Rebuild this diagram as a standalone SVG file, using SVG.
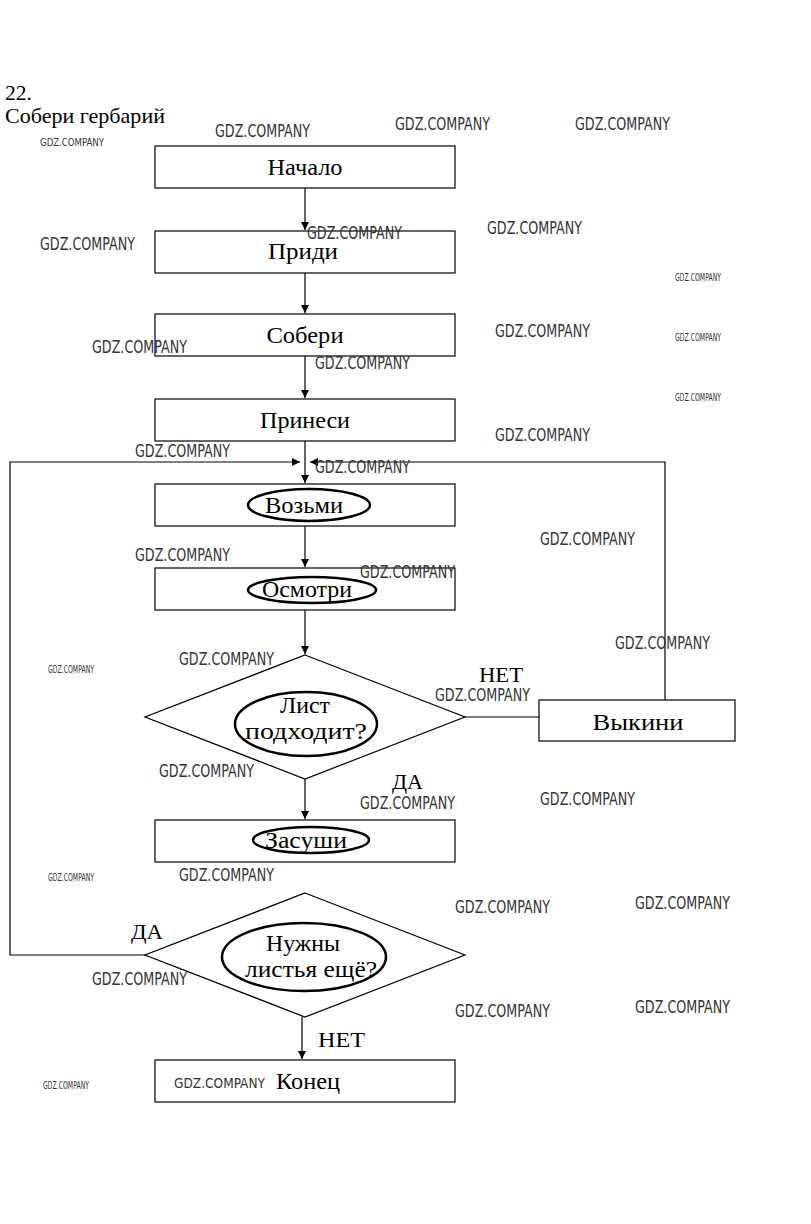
<svg xmlns="http://www.w3.org/2000/svg" width="811" height="1224" viewBox="0 0 811 1224">
<defs>
<style>
.box{fill:#fff;stroke:#000;stroke-width:1.2}
.ell{fill:none;stroke:#000;stroke-width:2.5}
.t{font-family:"Liberation Serif",serif;font-size:24px;fill:#000;text-anchor:middle}
.tl{font-family:"Liberation Serif",serif;font-size:22px;fill:#000}
.ln{fill:none;stroke:#000;stroke-width:1.2}
.wm{font-family:"DejaVu Sans Condensed","Liberation Sans",sans-serif;font-size:17px;fill:#333}
.ws{font-family:"DejaVu Sans Condensed","Liberation Sans",sans-serif;font-size:10px;fill:#333}
</style>
<marker id="ar" viewBox="0 0 10 10" refX="10" refY="5" markerWidth="7" markerHeight="7" orient="auto-start-reverse">
<path d="M0,0 L10,5 L0,10 z" fill="#000"/>
</marker>
</defs>
<rect width="811" height="1224" fill="#fff"/>
<text class="tl" x="5" y="100" textLength="27" lengthAdjust="spacingAndGlyphs">22.</text>
<text class="tl" x="5" y="123" textLength="160" lengthAdjust="spacingAndGlyphs">Собери гербарий</text>

<g id="connectors">
<line class="ln" x1="305" y1="188" x2="305" y2="230" marker-end="url(#ar)"/>
<line class="ln" x1="305" y1="273" x2="305" y2="313" marker-end="url(#ar)"/>
<line class="ln" x1="305" y1="356" x2="305" y2="398" marker-end="url(#ar)" stroke="#666"/>
<line class="ln" x1="305" y1="441" x2="305" y2="483" marker-end="url(#ar)"/>
<line class="ln" x1="305" y1="526" x2="305" y2="567" marker-end="url(#ar)"/>
<line class="ln" x1="305" y1="610" x2="305" y2="654" marker-end="url(#ar)"/>
<line class="ln" x1="305" y1="779" x2="305" y2="819" marker-end="url(#ar)"/>
<line class="ln" x1="302" y1="1017" x2="302" y2="1059" marker-end="url(#ar)"/>
<line class="ln" x1="465" y1="717" x2="539" y2="717" stroke-width="2"/>
<polyline class="ln" points="665,700 665,462 310,462" marker-end="url(#ar)"/>
<polyline class="ln" points="145,955 10,955 10,462 300,462" marker-end="url(#ar)"/>
<text class="tl" x="479" y="682" textLength="44" lengthAdjust="spacingAndGlyphs">НЕТ</text>
<text class="tl" x="392" y="789" textLength="31" lengthAdjust="spacingAndGlyphs">ДА</text>
<text class="tl" x="131" y="939" textLength="32" lengthAdjust="spacingAndGlyphs">ДА</text>
<text class="tl" x="318" y="1047" textLength="47" lengthAdjust="spacingAndGlyphs">НЕТ</text>
</g>

<g id="n-start"><rect class="box" x="155" y="146" width="300" height="42"/><text class="t" x="305" y="175" textLength="75" lengthAdjust="spacingAndGlyphs">Начало</text></g>
<g id="n-pridi"><rect class="box" x="155" y="231" width="300" height="42"/><text class="t" x="303" y="259" textLength="70" lengthAdjust="spacingAndGlyphs">Приди</text></g>
<g id="n-soberi"><rect class="box" x="155" y="314" width="300" height="42"/><text class="t" x="305" y="343" textLength="77" lengthAdjust="spacingAndGlyphs">Собери</text></g>
<g id="n-prinesi"><rect class="box" x="155" y="399" width="300" height="42"/><text class="t" x="305" y="428" textLength="90" lengthAdjust="spacingAndGlyphs">Принеси</text></g>
<g id="n-vozmi"><rect class="box" x="155" y="484" width="300" height="42"/><ellipse class="ell" cx="309" cy="505" rx="61" ry="16"/><text class="t" x="304" y="513" textLength="78" lengthAdjust="spacingAndGlyphs">Возьми</text></g>
<g id="n-osmotri"><rect class="box" x="155" y="568" width="300" height="42"/><ellipse class="ell" cx="312" cy="590" rx="64" ry="13"/><text class="t" x="307" y="597" textLength="90" lengthAdjust="spacingAndGlyphs">Осмотри</text></g>
<g id="n-list"><polygon class="box" points="305,655 465,717 305,779 145,717"/><ellipse class="ell" cx="306" cy="724" rx="71" ry="32"/><text class="t" x="305" y="713" textLength="50" lengthAdjust="spacingAndGlyphs">Лист</text><text class="t" x="306" y="739" textLength="122" lengthAdjust="spacingAndGlyphs">подходит?</text></g>
<g id="n-vykini"><rect class="box" x="539" y="700" width="196" height="41"/><text class="t" x="638" y="730" textLength="91" lengthAdjust="spacingAndGlyphs">Выкини</text></g>
<g id="n-zasushi"><rect class="box" x="155" y="820" width="300" height="42"/><ellipse class="ell" cx="311" cy="840" rx="58" ry="13"/><text class="t" x="306" y="848" textLength="82" lengthAdjust="spacingAndGlyphs">Засуши</text></g>
<g id="n-nuzhny"><polygon class="box" points="305,893 465,955 305,1017 145,955"/><ellipse class="ell" cx="304" cy="957" rx="82" ry="34"/><text class="t" x="303" y="951" textLength="74" lengthAdjust="spacingAndGlyphs">Нужны</text><text class="t" x="311" y="977" textLength="132" lengthAdjust="spacingAndGlyphs">листья ещё?</text></g>
<g id="n-end"><rect class="box" x="155" y="1060" width="300" height="42"/><text class="t" x="308" y="1089" textLength="64" lengthAdjust="spacingAndGlyphs">Конец</text></g>

<g id="watermarks">
<text class="wm" x="215" y="137" textLength="95" lengthAdjust="spacingAndGlyphs">GDZ.COMPANY</text>
<text class="wm" x="395" y="130" textLength="95" lengthAdjust="spacingAndGlyphs">GDZ.COMPANY</text>
<text class="wm" x="575" y="130" textLength="95" lengthAdjust="spacingAndGlyphs">GDZ.COMPANY</text>
<text class="ws" x="40" y="146" textLength="64" lengthAdjust="spacingAndGlyphs">GDZ.COMPANY</text>
<text class="wm" x="307" y="239" textLength="95" lengthAdjust="spacingAndGlyphs">GDZ.COMPANY</text>
<text class="wm" x="487" y="234" textLength="95" lengthAdjust="spacingAndGlyphs">GDZ.COMPANY</text>
<text class="wm" x="40" y="250" textLength="95" lengthAdjust="spacingAndGlyphs">GDZ.COMPANY</text>
<text class="ws" x="675" y="281" textLength="46" lengthAdjust="spacingAndGlyphs">GDZ.COMPANY</text>
<text class="wm" x="495" y="337" textLength="95" lengthAdjust="spacingAndGlyphs">GDZ.COMPANY</text>
<text class="wm" x="92" y="353" textLength="95" lengthAdjust="spacingAndGlyphs">GDZ.COMPANY</text>
<text class="ws" x="675" y="341" textLength="46" lengthAdjust="spacingAndGlyphs">GDZ.COMPANY</text>
<text class="wm" x="315" y="369" textLength="95" lengthAdjust="spacingAndGlyphs">GDZ.COMPANY</text>
<text class="ws" x="675" y="401" textLength="46" lengthAdjust="spacingAndGlyphs">GDZ.COMPANY</text>
<text class="wm" x="495" y="441" textLength="95" lengthAdjust="spacingAndGlyphs">GDZ.COMPANY</text>
<text class="wm" x="135" y="457" textLength="95" lengthAdjust="spacingAndGlyphs">GDZ.COMPANY</text>
<text class="wm" x="315" y="473" textLength="95" lengthAdjust="spacingAndGlyphs">GDZ.COMPANY</text>
<text class="wm" x="540" y="545" textLength="95" lengthAdjust="spacingAndGlyphs">GDZ.COMPANY</text>
<text class="wm" x="135" y="561" textLength="95" lengthAdjust="spacingAndGlyphs">GDZ.COMPANY</text>
<text class="wm" x="360" y="578" textLength="95" lengthAdjust="spacingAndGlyphs">GDZ.COMPANY</text>
<text class="wm" x="615" y="649" textLength="95" lengthAdjust="spacingAndGlyphs">GDZ.COMPANY</text>
<text class="ws" x="48" y="673" textLength="46" lengthAdjust="spacingAndGlyphs">GDZ.COMPANY</text>
<text class="wm" x="179" y="665" textLength="95" lengthAdjust="spacingAndGlyphs">GDZ.COMPANY</text>
<text class="wm" x="435" y="701" textLength="95" lengthAdjust="spacingAndGlyphs">GDZ.COMPANY</text>
<text class="wm" x="159" y="777" textLength="95" lengthAdjust="spacingAndGlyphs">GDZ.COMPANY</text>
<text class="wm" x="540" y="805" textLength="95" lengthAdjust="spacingAndGlyphs">GDZ.COMPANY</text>
<text class="wm" x="360" y="809" textLength="95" lengthAdjust="spacingAndGlyphs">GDZ.COMPANY</text>
<text class="ws" x="48" y="881" textLength="46" lengthAdjust="spacingAndGlyphs">GDZ.COMPANY</text>
<text class="wm" x="179" y="881" textLength="95" lengthAdjust="spacingAndGlyphs">GDZ.COMPANY</text>
<text class="wm" x="455" y="913" textLength="95" lengthAdjust="spacingAndGlyphs">GDZ.COMPANY</text>
<text class="wm" x="635" y="909" textLength="95" lengthAdjust="spacingAndGlyphs">GDZ.COMPANY</text>
<text class="wm" x="92" y="985" textLength="95" lengthAdjust="spacingAndGlyphs">GDZ.COMPANY</text>
<text class="wm" x="455" y="1017" textLength="95" lengthAdjust="spacingAndGlyphs">GDZ.COMPANY</text>
<text class="wm" x="635" y="1013" textLength="95" lengthAdjust="spacingAndGlyphs">GDZ.COMPANY</text>
<text class="ws" x="43" y="1089" textLength="46" lengthAdjust="spacingAndGlyphs">GDZ.COMPANY</text>
<text class="wm" x="174" y="1088" style="font-size:14px" textLength="91" lengthAdjust="spacingAndGlyphs">GDZ.COMPANY</text>
</g>
</svg>
